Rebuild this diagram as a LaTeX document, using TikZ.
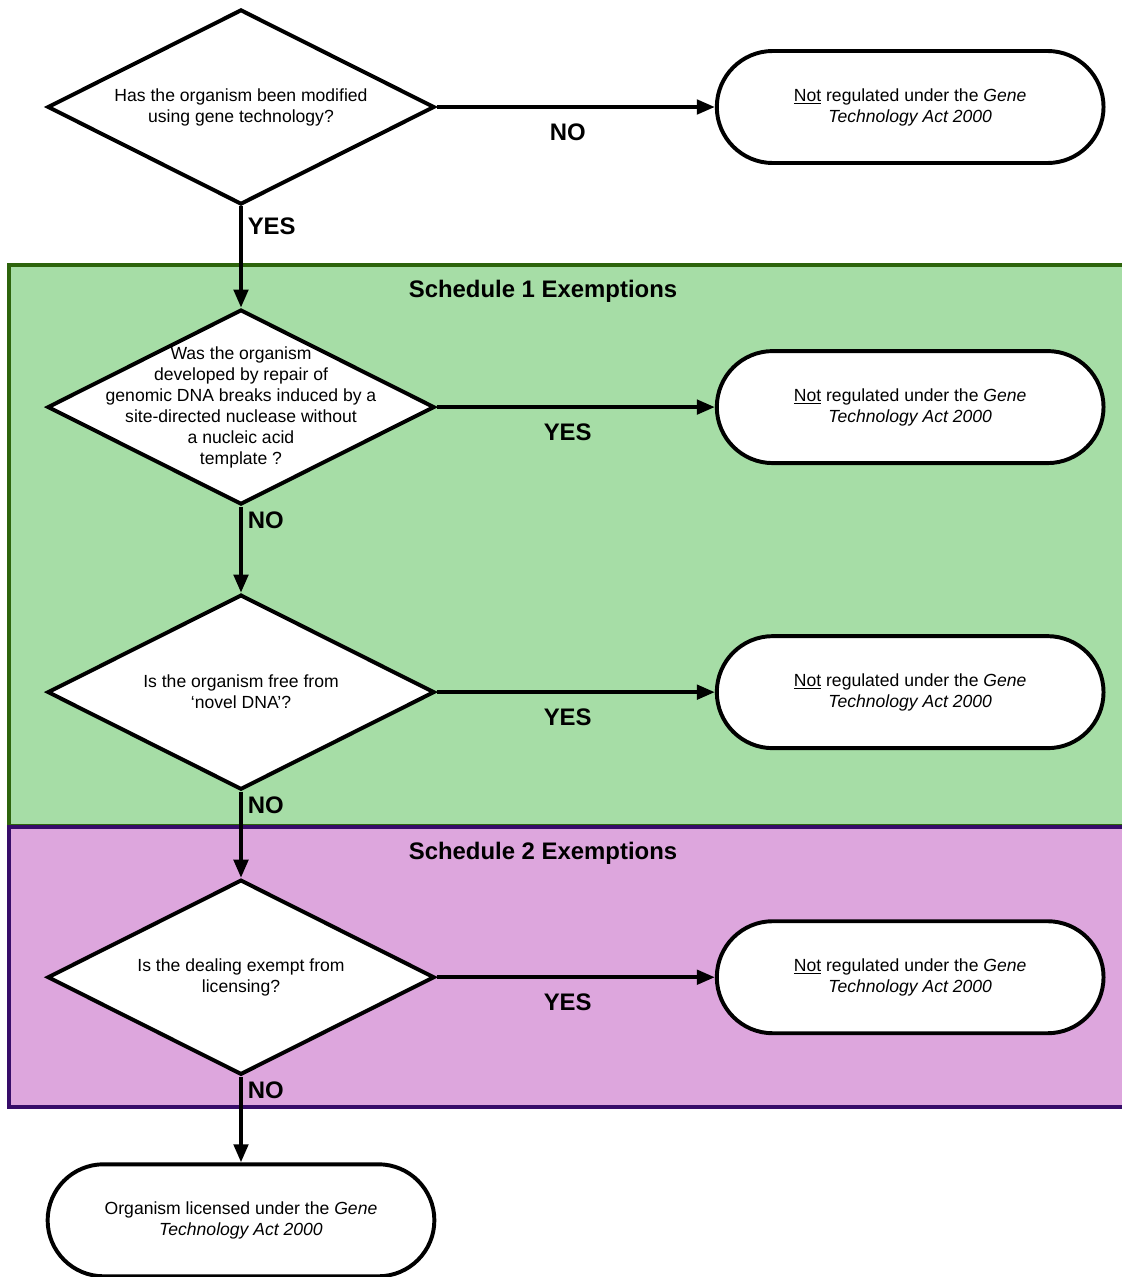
\documentclass[tikz,border=0pt]{standalone}
\usepackage{fontspec}
\setmainfont{Liberation Sans}
\usepackage{tikz}
\usetikzlibrary{shapes.geometric,shapes.misc,arrows.meta,positioning}
\definecolor{sonefill}{RGB}{166,221,166}
\definecolor{soneline}{RGB}{45,100,12}
\definecolor{stwofill}{RGB}{221,166,221}
\definecolor{stwoline}{RGB}{55,12,105}
\tikzset{
flow/.style={-{Triangle[length=0.45cm,width=0.36cm]}, line width=2.6pt}, % the connecting arrows
decision/.style={diamond, draw, line width=2.8pt, fill=white, minimum width=9.675cm, minimum height=4.875cm, inner sep=-2cm, align=center, font=\fontsize{12.5}{14.9}\selectfont}, % question boxes
terminal/.style={rounded rectangle, draw, line width=2.8pt, fill=white, minimum width=9.9cm, minimum height=2.8cm, align=center, font=\fontsize{12.5}{14.9}\selectfont}, % end boxes
answer/.style={font=\fontsize{17}{20}\selectfont\bfseries}, % YES / NO
heading/.style={font=\fontsize{17}{20}\selectfont\bfseries}, % schedule titles
node distance=7.125cm, % vertical step between the questions
on grid,
}

\begin{document}
\begin{tikzpicture}[x=0.025cm, y=-0.025cm]
		\useasboundingbox (0,0) rectangle (1122,1277);

		% schedule panels
		\filldraw[fill=sonefill, draw=soneline, line width=2.6pt] (9,265) rectangle (1130,826);
		\filldraw[fill=stwofill, draw=stwoline, line width=2.6pt] (9,827) rectangle (1130,1107);
		\node[heading] (s1) at (543,291) {Schedule 1 Exemptions};
		\node[heading] (s2) at (543,853) {Schedule 2 Exemptions};

		\node[decision] (q1) at (241,107) {Has the organism been modified\\using gene technology?};
		\node[decision, below=7.5cm of q1] (q2) {Was the organism\\developed by repair of\\genomic DNA breaks induced by a\\site-directed nuclease without\\a nucleic acid\\template ?};
		\node[decision, below=of q2] (q3) {Is the organism free from\\‘novel DNA’?};
		\node[decision, below=of q3] (q4) {Is the dealing exempt from\\licensing?};
		\node[terminal, below=6.075cm of q4] (lic) {Organism licensed under the \textit{Gene}\\\textit{Technology Act 2000}};

		\node[terminal, right=16.725cm of q1] (n1) {\underline{Not} regulated under the \textit{Gene}\\\textit{Technology Act 2000}};
		\node[terminal, right=16.725cm of q2] (n2) {\underline{Not} regulated under the \textit{Gene}\\\textit{Technology Act 2000}};
		\node[terminal, right=16.725cm of q3] (n3) {\underline{Not} regulated under the \textit{Gene}\\\textit{Technology Act 2000}};
		\node[terminal, right=16.725cm of q4] (n4) {\underline{Not} regulated under the \textit{Gene}\\\textit{Technology Act 2000}};

		\draw[flow] (q1.east) -- node[answer, below=0.55cm, yshift=0.3cm, xshift=-0.2cm] {NO} (n1.west);
		\draw[flow] (q2.east) -- node[answer, below=0.55cm, yshift=0.3cm, xshift=-0.2cm] {YES} (n2.west);
		\draw[flow] (q3.east) -- node[answer, below=0.55cm, yshift=0.3cm, xshift=-0.2cm] {YES} (n3.west);
		\draw[flow] (q4.east) -- node[answer, below=0.55cm, yshift=0.3cm, xshift=-0.2cm] {YES} (n4.west);

		\draw[flow] (q1.south) -- node[answer, at start, anchor=north west, inner sep=1.5pt, xshift=2pt, yshift=-5pt] {YES} (q2.north);
		\draw[flow] (q2.south) -- node[answer, at start, anchor=north west, inner sep=1.5pt, xshift=2pt, yshift=-1pt] {NO} (q3.north);
		\draw[flow] (q3.south) -- node[answer, at start, anchor=north west, inner sep=1.5pt, xshift=2pt, yshift=-1pt] {NO} (q4.north);
		\draw[flow] (q4.south) -- node[answer, at start, anchor=north west, inner sep=1.5pt, xshift=2pt, yshift=-1pt] {NO} (lic.north);
	\end{tikzpicture}
\end{document}
